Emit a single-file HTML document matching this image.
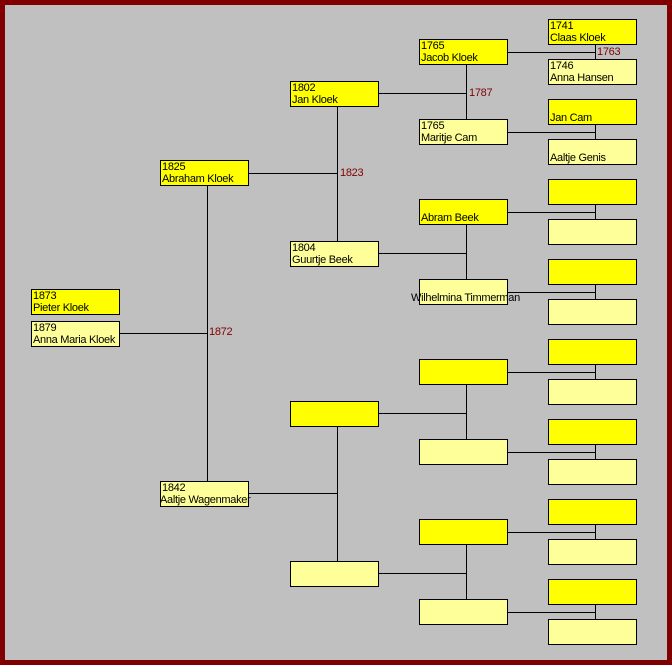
<!DOCTYPE html>
<html><head><meta charset="utf-8"><style>
html,body{margin:0;padding:0}
body{width:672px;height:665px;position:relative;background:#c0c0c0;overflow:hidden;font-family:"Liberation Sans",Arial,sans-serif;font-size:11px}
#frame{position:absolute;left:0;top:0;width:662px;height:655px;border:5px solid #800000}
.b{position:absolute;width:87px;height:24px;border:1px solid #000;line-height:12px;padding:0;color:#000;white-space:nowrap;letter-spacing:-0.3px}
.b span{display:block;padding-left:1px}
.m{background:#ffff00}.f{background:#ffff99}
svg{position:absolute;left:0;top:0}
.l{position:absolute;color:#800000;font-size:11px;line-height:12px;letter-spacing:-0.3px}
</style></head><body>
<div id="frame"></div>
<svg width="672" height="665">
<g stroke="#000" stroke-width="1" fill="none" shape-rendering="crispEdges">
<line x1="119" y1="333.5" x2="207.5" y2="333.5"/>
<line x1="207.5" y1="186" x2="207.5" y2="481"/>
<line x1="249" y1="173.5" x2="337.5" y2="173.5"/>
<line x1="249" y1="493.5" x2="337.5" y2="493.5"/>
<line x1="337.5" y1="107" x2="337.5" y2="241"/>
<line x1="337.5" y1="427" x2="337.5" y2="561"/>
<line x1="379" y1="93.5" x2="466.5" y2="93.5"/>
<line x1="379" y1="253.5" x2="466.5" y2="253.5"/>
<line x1="379" y1="413.5" x2="466.5" y2="413.5"/>
<line x1="379" y1="573.5" x2="466.5" y2="573.5"/>
<line x1="466.5" y1="65" x2="466.5" y2="119"/>
<line x1="466.5" y1="225" x2="466.5" y2="279"/>
<line x1="466.5" y1="385" x2="466.5" y2="439"/>
<line x1="466.5" y1="545" x2="466.5" y2="599"/>
<line x1="508" y1="52.5" x2="595.5" y2="52.5"/>
<line x1="508" y1="132.5" x2="595.5" y2="132.5"/>
<line x1="508" y1="212.5" x2="595.5" y2="212.5"/>
<line x1="508" y1="292.5" x2="595.5" y2="292.5"/>
<line x1="508" y1="372.5" x2="595.5" y2="372.5"/>
<line x1="508" y1="452.5" x2="595.5" y2="452.5"/>
<line x1="508" y1="532.5" x2="595.5" y2="532.5"/>
<line x1="508" y1="612.5" x2="595.5" y2="612.5"/>
<line x1="595.5" y1="45" x2="595.5" y2="59"/>
<line x1="595.5" y1="125" x2="595.5" y2="139"/>
<line x1="595.5" y1="205" x2="595.5" y2="219"/>
<line x1="595.5" y1="285" x2="595.5" y2="299"/>
<line x1="595.5" y1="365" x2="595.5" y2="379"/>
<line x1="595.5" y1="445" x2="595.5" y2="459"/>
<line x1="595.5" y1="525" x2="595.5" y2="539"/>
<line x1="595.5" y1="605" x2="595.5" y2="619"/>
</g></svg>
<div class="l" style="left:209px;top:326px">1872</div>
<div class="l" style="left:340px;top:167px">1823</div>
<div class="l" style="left:469px;top:87px">1787</div>
<div class="l" style="left:597px;top:46px">1763</div>

<div class="b m" style="left:31px;top:289px"><span>1873</span><span>Pieter Kloek</span></div>
<div class="b f" style="left:31px;top:321px"><span>1879</span><span>Anna Maria Kloek</span></div>
<div class="b m" style="left:160px;top:160px"><span>1825</span><span>Abraham Kloek</span></div>
<div class="b f" style="left:160px;top:481px"><span>1842</span><span style="margin-left:-2px">Aaltje Wagenmaker</span></div>

<div class="b m" style="left:290px;top:81px"><span>1802</span><span>Jan Kloek</span></div>
<div class="b f" style="left:290px;top:241px"><span>1804</span><span>Guurtje Beek</span></div>
<div class="b m" style="left:290px;top:401px"></div>
<div class="b f" style="left:290px;top:561px"></div>

<div class="b m" style="left:419px;top:39px"><span>1765</span><span>Jacob Kloek</span></div>
<div class="b f" style="left:419px;top:119px"><span>1765</span><span>Maritje Cam</span></div>
<div class="b m" style="left:419px;top:199px"><span>&nbsp;</span><span>Abram Beek</span></div>
<div class="b f" style="left:419px;top:279px"><span>&nbsp;</span><span style="margin-left:-10px">Wilhelmina Timmerman</span></div>
<div class="b m" style="left:419px;top:359px"></div>
<div class="b f" style="left:419px;top:439px"></div>
<div class="b m" style="left:419px;top:519px"></div>
<div class="b f" style="left:419px;top:599px"></div>

<div class="b m" style="left:548px;top:19px"><span>1741</span><span>Claas Kloek</span></div>
<div class="b f" style="left:548px;top:59px"><span>1746</span><span>Anna Hansen</span></div>
<div class="b m" style="left:548px;top:99px"><span>&nbsp;</span><span>Jan Cam</span></div>
<div class="b f" style="left:548px;top:139px"><span>&nbsp;</span><span>Aaltje Genis</span></div>
<div class="b m" style="left:548px;top:179px"></div>
<div class="b f" style="left:548px;top:219px"></div>
<div class="b m" style="left:548px;top:259px"></div>
<div class="b f" style="left:548px;top:299px"></div>
<div class="b m" style="left:548px;top:339px"></div>
<div class="b f" style="left:548px;top:379px"></div>
<div class="b m" style="left:548px;top:419px"></div>
<div class="b f" style="left:548px;top:459px"></div>
<div class="b m" style="left:548px;top:499px"></div>
<div class="b f" style="left:548px;top:539px"></div>
<div class="b m" style="left:548px;top:579px"></div>
<div class="b f" style="left:548px;top:619px"></div>
</body></html>
